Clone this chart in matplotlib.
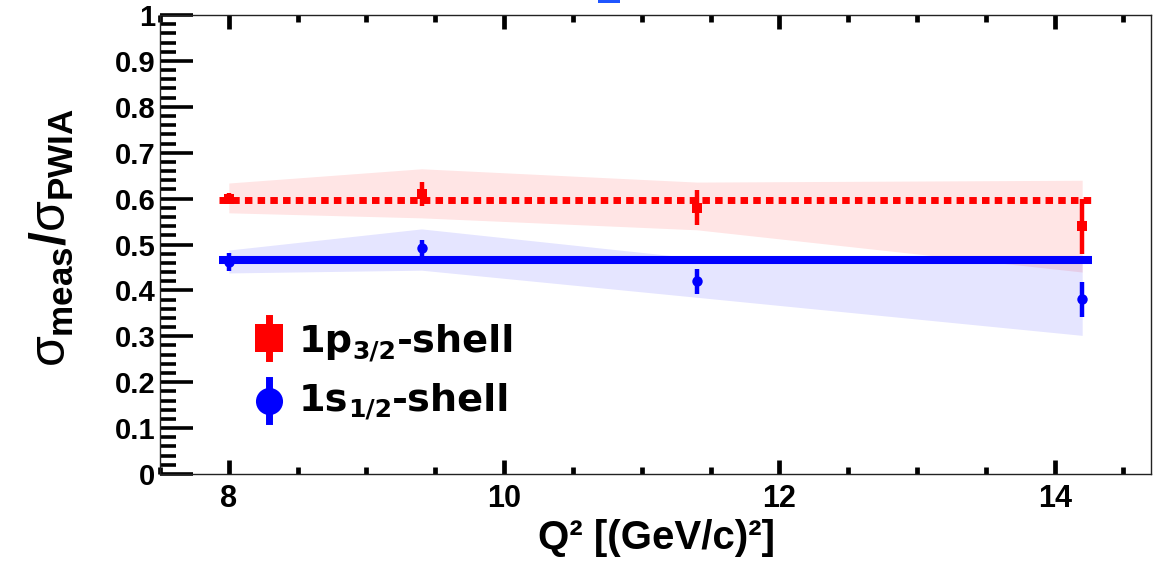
import matplotlib
matplotlib.use("Agg")
import matplotlib.pyplot as plt
from matplotlib.ticker import MultipleLocator, FixedLocator, FixedFormatter
from matplotlib.patches import Rectangle

# Measured ratio sigma_meas / sigma_PWIA versus Q^2
q2 = [8.0, 9.4, 11.4, 14.2]

p32 = [0.600, 0.610, 0.580, 0.540]
p32_err = [0.012, 0.027, 0.038, 0.060]
p32_band_lo = [0.569, 0.558, 0.532, 0.440]
p32_band_hi = [0.634, 0.665, 0.636, 0.640]
p32_mean = 0.598

s12 = [0.462, 0.492, 0.420, 0.381]
s12_err = [0.020, 0.018, 0.027, 0.038]
s12_band_lo = [0.438, 0.444, 0.385, 0.302]
s12_band_hi = [0.488, 0.534, 0.470, 0.462]
s12_mean = 0.466

mean_span = [7.93, 14.27]

y_ticks = [0.0, 0.1, 0.2, 0.3, 0.4, 0.5, 0.6, 0.7, 0.8, 0.9, 1.0]
y_tick_labels = ["0", "0.1", "0.2", "0.3", "0.4", "0.5", "0.6", "0.7", "0.8", "0.9", "1"]
x_ticks = [8, 10, 12, 14]
x_tick_labels = ["8", "10", "12", "14"]

RED = "#ff0000"
BLUE = "#0000ff"

plt.rcParams["mathtext.fontset"] = "custom"
plt.rcParams["mathtext.rm"] = "Liberation Sans"
plt.rcParams["mathtext.it"] = "Liberation Sans"
plt.rcParams["mathtext.bf"] = "Liberation Sans:bold"

fig = plt.figure(figsize=(11.6, 5.63), dpi=100)
ax = fig.add_axes([160 / 1160, 1 - 474 / 563, 991 / 1160, 459 / 563])

# uncertainty bands
ax.fill_between(q2, p32_band_lo, p32_band_hi, color=RED, alpha=0.10, lw=0, zorder=1)
ax.fill_between(q2, s12_band_lo, s12_band_hi, color=BLUE, alpha=0.10, lw=0, zorder=1)

# averages
ax.plot(mean_span, [p32_mean, p32_mean], color=RED, lw=5.0,
        linestyle=(0, (1.08, 0.75)), dash_capstyle="butt", zorder=3)
ax.plot(mean_span, [s12_mean, s12_mean], color=BLUE, lw=5.8,
        solid_capstyle="butt", zorder=3)

# measured points
ax.errorbar(q2, p32, yerr=p32_err, fmt="s", color=RED, ms=7.5, mew=0,
            elinewidth=3.2, capsize=0, zorder=4)
ax.errorbar(q2, s12, yerr=s12_err, fmt="o", color=BLUE, ms=7.5, mew=0,
            elinewidth=3.2, capsize=0, zorder=4)

ax.set_xlim(7.5, 14.7)
ax.set_ylim(0, 1)

ax.xaxis.set_major_locator(FixedLocator(x_ticks))
ax.xaxis.set_major_formatter(FixedFormatter(x_tick_labels))
ax.xaxis.set_minor_locator(MultipleLocator(0.5))
ax.yaxis.set_major_locator(FixedLocator(y_ticks))
ax.yaxis.set_major_formatter(FixedFormatter(y_tick_labels))
ax.yaxis.set_minor_locator(MultipleLocator(0.02))

ax.tick_params(axis="y", which="major", direction="in", length=24, width=2.6,
               left=True, right=False, pad=3.5, labelsize=21, color="black")
ax.tick_params(axis="y", which="minor", direction="in", length=11.5, width=2.6,
               left=True, right=False, color="black")
ax.tick_params(axis="x", which="major", direction="in", length=10, width=3.4,
               bottom=True, top=True, pad=7, labelsize=22, color="black")
ax.tick_params(axis="x", which="minor", direction="in", length=5, width=3.4,
               bottom=True, top=True, color="black")
for lab in ax.get_xticklabels() + ax.get_yticklabels():
    lab.set_fontfamily("Liberation Sans")
    lab.set_fontweight("bold")

for sp in ax.spines.values():
    sp.set_linewidth(1.0)
    sp.set_color("#222222")

# axis titles
fig.text(656 / 1160, 1 - 538 / 563, "Q² [(GeV/c)²]", ha="center", va="center",
         fontsize=29, fontweight="bold", family="Liberation Sans")
fig.text(52 / 1160, 1 - 238 / 563,
         r"$\sigma_{\mathbf{meas}}\mathbf{/}\sigma_{\mathbf{PWIA}}$",
         rotation=90, ha="center", va="center", fontsize=36)

# legend
def legend_entry(y_mark, y_text, marker, color, main, sub, tail):
    ax.plot([0.110, 0.110], [y_mark - 0.044, y_mark + 0.044], color=color,
            lw=5, transform=ax.transAxes, clip_on=False, zorder=5)
    ax.plot([0.110], [y_mark], marker=marker, ms=19.5, color=color, mew=0,
            transform=ax.transAxes, clip_on=False, zorder=5)
    t1 = ax.text(0.140, y_text, main, transform=ax.transAxes, fontsize=27.5,
                 fontweight="bold", family="DejaVu Sans", va="baseline", ha="left")
    t2 = ax.annotate(sub, xy=(1, 0), xycoords=t1, xytext=(0, -2.5),
                     textcoords="offset points", fontsize=18, fontweight="bold",
                     family="DejaVu Sans", va="bottom", ha="left")
    ax.annotate(tail, xy=(1, 0), xycoords=(t2, t1), fontsize=27.5,
                fontweight="bold", family="DejaVu Sans", va="bottom", ha="left")

legend_entry(0.296, 0.266, "s", RED, "1p", "3/2", "-shell")
legend_entry(0.160, 0.139, "o", BLUE, "1s", "1/2", "-shell")

# cropped heading fragment at the top edge
fig.patches.append(Rectangle((598 / 1160, 1 - 3 / 563), 22 / 1160, 3 / 563,
                             transform=fig.transFigure, color="#1f55ff", lw=0))

fig.savefig("out.png", dpi=100)
